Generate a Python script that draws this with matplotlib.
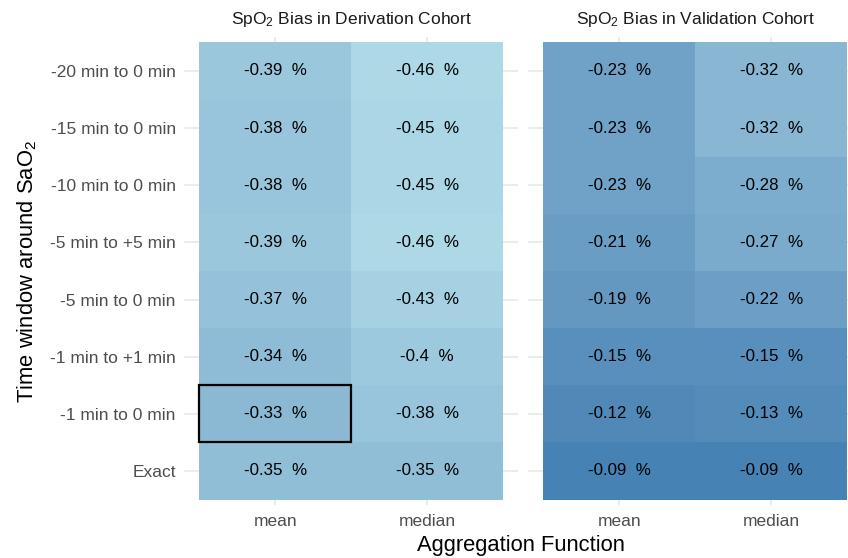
import numpy as np
import matplotlib
matplotlib.use("Agg")
import matplotlib.pyplot as plt
from matplotlib.patches import Rectangle

plt.rcParams['font.family'] = ['Liberation Sans', 'DejaVu Sans']
plt.rcParams['mathtext.fontset'] = 'custom'
plt.rcParams['mathtext.rm'] = 'Liberation Sans'
plt.rcParams['mathtext.it'] = 'Liberation Sans'

# ---- data ----
windows = ["-20 min to 0 min", "-15 min to 0 min", "-10 min to 0 min", "-5 min to +5 min",
           "-5 min to 0 min", "-1 min to +1 min", "-1 min to 0 min", "Exact"]
functions = ["mean", "median"]
cohorts = [r"SpO$_2$ Bias in Derivation Cohort", r"SpO$_2$ Bias in Validation Cohort"]
deriv_mean = [-0.39, -0.38, -0.38, -0.39, -0.37, -0.34, -0.33, -0.35]
deriv_median = [-0.46, -0.45, -0.45, -0.46, -0.43, -0.40, -0.38, -0.35]
valid_mean = [-0.23, -0.23, -0.23, -0.21, -0.19, -0.15, -0.12, -0.09]
valid_median = [-0.32, -0.32, -0.28, -0.27, -0.22, -0.15, -0.13, -0.09]
highlight_window = "-1 min to 0 min"
highlight_function = "mean"

panels = [[deriv_mean, deriv_median], [valid_mean, valid_median]]
allvals = np.array(deriv_mean + deriv_median + valid_mean + valid_median)
vmin, vmax = allvals.min(), allvals.max()

# ---- Lab gradient (like ggplot scale_fill_gradient) ----
def hex2rgb(h):
    h = h.lstrip('#')
    return np.array([int(h[i:i+2], 16) / 255 for i in (0, 2, 4)])

def srgb2lin(c):
    return np.where(c <= 0.04045, c / 12.92, ((c + 0.055) / 1.055) ** 2.4)

def lin2srgb(c):
    c = np.clip(c, 0, 1)
    return np.where(c <= 0.0031308, 12.92 * c, 1.055 * c ** (1 / 2.4) - 0.055)

M = np.array([[0.4124, 0.3576, 0.1805], [0.2126, 0.7152, 0.0722], [0.0193, 0.1192, 0.9505]])
Minv = np.linalg.inv(M)
WP = np.array([0.95047, 1.0, 1.08883])

def f(t):
    d = 6 / 29
    return np.where(t > d ** 3, np.cbrt(t), t / (3 * d * d) + 4 / 29)

def finv(t):
    d = 6 / 29
    return np.where(t > d, t ** 3, 3 * d * d * (t - 4 / 29))

def rgb2lab(rgb):
    xyz = M @ srgb2lin(rgb) / WP
    fx, fy, fz = f(xyz)
    return np.array([116 * fy - 16, 500 * (fx - fy), 200 * (fy - fz)])

def lab2rgb(lab):
    L, a, b = lab
    fy = (L + 16) / 116
    fx = fy + a / 500
    fz = fy - b / 200
    xyz = np.array([finv(fx), finv(fy), finv(fz)]) * WP
    return lin2srgb(Minv @ xyz)

lab_lo = rgb2lab(hex2rgb("#ADD8E6"))
lab_hi = rgb2lab(hex2rgb("#4682B4"))

def colour(v):
    t = (v - vmin) / (vmax - vmin)
    return tuple(lab2rgb(lab_lo + t * (lab_hi - lab_lo)))

# ---- figure ----
W, H = 848, 558
fig = plt.figure(figsize=(W / 100, H / 100), dpi=100)
unit_x = 152
unit_y = (471 - 71) / 7
pw = 2.2 * unit_x
ph = 8.2 * unit_y
ptop = 42.4 - 0.1 * unit_y
lefts = [184, 528]
ny = len(windows)

grid_col = "#EBEBEB"
for p, left in enumerate(lefts):
    ax = fig.add_axes([left / W, 1 - (ptop + ph) / H, pw / W, ph / H])
    ax.set_xlim(-0.6, 1.6)
    ax.set_ylim(-0.6, ny - 0.4)
    for s in ax.spines.values():
        s.set_visible(False)
    ax.set_xticks(range(len(functions)))
    ax.set_xticklabels(functions, fontsize=12.5, color="#4D4D4D")
    ax.set_yticks(range(ny))
    if p == 0:
        ax.set_yticklabels(windows[::-1], fontsize=12.5, color="#4D4D4D")
    else:
        ax.set_yticklabels([])
    ax.tick_params(length=0, pad=6)
    ax.grid(True, color=grid_col, linewidth=1.3, zorder=0)
    ax.set_axisbelow(True)
    for j, fn in enumerate(functions):
        vals = panels[p][j]
        for i, w in enumerate(windows):
            y = ny - 1 - i
            v = vals[i]
            ax.add_patch(Rectangle((j - 0.5, y - 0.5), 1, 1, facecolor=colour(v),
                                   edgecolor='none', zorder=1))
            ax.text(j, y, f"{v:g}  %", ha='center', va='center', fontsize=12.2,
                    color='black', zorder=3)
    if p == 0:
        hi = windows.index(highlight_window)
        hj = functions.index(highlight_function)
        ax.add_patch(Rectangle((hj - 0.5, ny - 1 - hi - 0.5), 1, 1, facecolor='none',
                               edgecolor='black', linewidth=1.6, zorder=2))
    ax.set_title(cohorts[p], fontsize=12.5, color="#1A1A1A", pad=9)

fig.text(521 / W, 1 - 546 / H, "Aggregation Function", ha='center', va='center',
         fontsize=15.8, color='black')
fig.text(27 / W, 1 - 271 / H, r"Time window around SaO$_2$", ha='center', va='center',
         rotation=90, fontsize=15.8, color='black')

fig.savefig("out.png", dpi=100, facecolor='white')
